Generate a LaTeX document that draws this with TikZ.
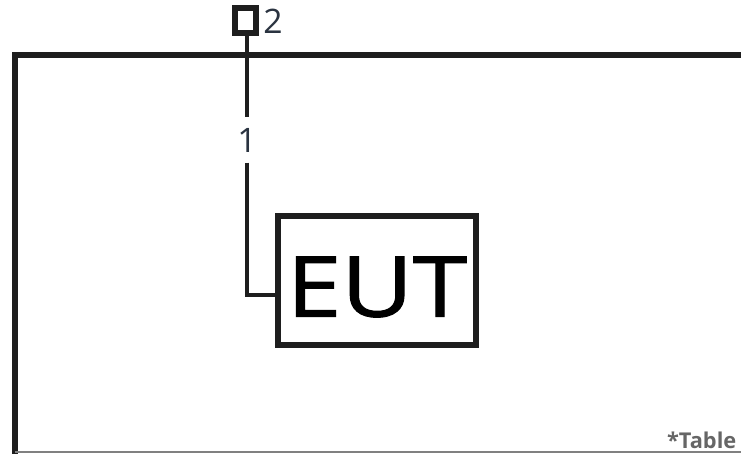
\documentclass[tikz,border=0pt]{standalone}
\usepackage{fontspec}
\setmainfont{Open Sans}
\newfontfamily\eutfont[FakeBold=1.2]{Open Sans}
\usepackage{xcolor}
\usepackage{tikz}
\usetikzlibrary{calc,positioning}
\definecolor{ink}{HTML}{1E1E1E}
\definecolor{lbl}{HTML}{2A3340}

\begin{document}
\begin{tikzpicture}[x=0.1mm,y=-0.1mm,
  portbox/.style={draw=ink,line width=1.6pt,minimum width=2.15mm,minimum height=2.55mm,inner sep=0pt},
  eutbox/.style={draw=ink,line width=1.7pt,minimum width=19.8mm,minimum height=12.9mm,inner sep=0pt},
  cable/.style={draw=ink,line width=1.14pt},
  num/.style={text=lbl,font=\fontsize{9.6}{10}\selectfont,inner sep=0pt}]
\useasboundingbox (0,0) rectangle (741,454);
% table outline
\draw[ink,line width=1.6pt] (15,460)--(15,55)--(750,55);
\draw[gray,line width=0.6pt] (15,452)--(741,452);
\node[anchor=base east,text=gray!80!black,font=\bfseries\fontsize{6.2}{7}\selectfont,inner sep=0pt] (tbl) at (737,449) {*Table};
% equipment and cable
\node[eutbox] (eut) at (377,280.5) {};
\node[font=\eutfont\fontsize{23.9}{26}\selectfont,inner sep=0pt] (eutname) at (377,287) {\scalebox{1.17}[1]{EUT}};
\node[portbox] (port) at (245.5,20.5) {};
\node[num,right=0.35mm of port,yshift=-0.1mm] (p2) {2};
\node[num] (c1) at (247,140) {1};
\coordinate (bend) at (247,295);
\draw[cable] (port.south-|c1)--([yshift=1mm]c1.north);
\draw[cable] ([yshift=-1mm]c1.south)--(bend)--(eut.west|-bend);
\end{tikzpicture}
\end{document}
